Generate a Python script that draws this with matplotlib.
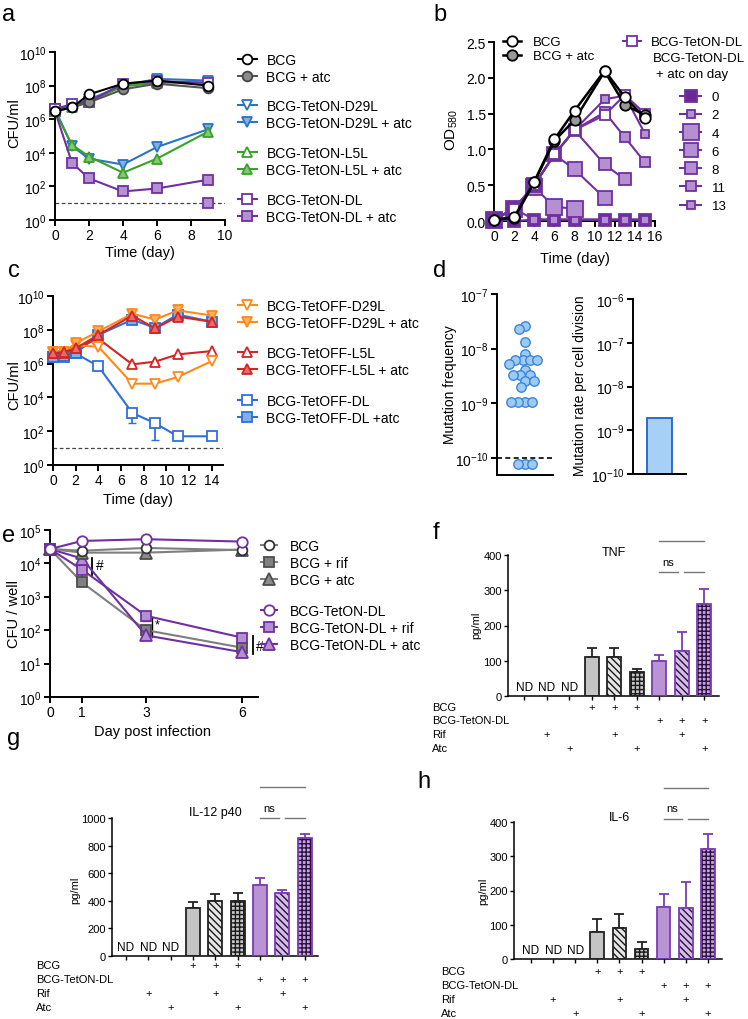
import numpy as np
import matplotlib
matplotlib.use("Agg")
import matplotlib.pyplot as plt
from matplotlib.ticker import FixedLocator, NullLocator, FormatStrFormatter

W, H = 748, 1020

plt.rcParams["font.family"] = ["Liberation Sans", "DejaVu Sans"]
plt.rcParams["mathtext.fontset"] = "custom"
plt.rcParams["mathtext.rm"] = "Liberation Sans"
plt.rcParams["mathtext.it"] = "Liberation Sans:italic"
plt.rcParams["mathtext.bf"] = "Liberation Sans:bold"
plt.rcParams["hatch.linewidth"] = 1.0
plt.rcParams["axes.linewidth"] = 1.4
plt.rcParams["xtick.major.width"] = 1.4
plt.rcParams["ytick.major.width"] = 1.4
plt.rcParams["xtick.major.size"] = 4
plt.rcParams["ytick.major.size"] = 4
plt.rcParams["xtick.labelsize"] = 10
plt.rcParams["ytick.labelsize"] = 10
plt.rcParams["xtick.major.pad"] = 2
plt.rcParams["ytick.major.pad"] = 2

# ---------------- data ----------------
# a: TetON strains, CFU/ml
a_days = [0, 1, 2, 4, 6, 9]
a_bcg = [3e6, 5e6, 3e7, 1.3e8, 2e8, 1e8]
a_bcg_atc = [3e6, 5e6, 1e7, 6e7, 1.3e8, 7e7]
a_d29l = [4e6, 6e6, 1.5e7, 1e8, 2.5e8, 2e8]
a_d29l_atc = [4e6, 2.5e4, 4.5e3, 2e3, 2.2e4, 2.5e5]
a_l5l = [3e6, 5e6, 1.2e7, 9e7, 1.5e8, 1.5e8]
a_l5l_atc = [3e6, 3e4, 6e3, 6.5e2, 4.5e3, 1.8e5]
a_dl = [4e6, 8e6, 1.1e7, 1.3e8, 1.8e8, 1.5e8]
a_dl_atc = [3e6, 2.5e3, 3e2, 50, 75, 250]
a_dl_atc_rep_day = [9]
a_dl_atc_rep = [10]
a_lod = 10

# b: OD580 growth, atc added on a given day
b_days = [0, 2, 4, 6, 8, 11, 13, 15]
b_bcg = [0.02, 0.05, 0.55, 1.14, 1.54, 2.10, 1.73, 1.44]
b_bcg_atc = [0.02, 0.04, 0.54, 1.12, 1.41, 2.09, 1.62, 1.48]
b_dl = [0.02, 0.17, 0.50, 0.93, 1.27, 1.48, 1.76, 1.50]
b_atc_day = ["0", "2", "4", "6", "8", "11", "13"]
b_atc_d0 = [0.03, 0.0, 0.02, 0.02, 0.02, 0.02, 0.02, 0.02]
b_atc_d2 = [0.02, 0.17, 0.02, 0.02, 0.02, 0.02, 0.02, 0.02]
b_atc_d4 = [0.02, 0.17, 0.47, 0.20, 0.17]
b_atc_d6 = [0.02, 0.17, 0.50, 0.93, 0.72, 0.32]
b_atc_d8 = [0.02, 0.17, 0.50, 0.93, 1.27, 0.79, 0.58]
b_atc_d11 = [0.02, 0.17, 0.50, 0.93, 1.27, 1.52, 1.17, 0.82]
b_atc_d13 = [0.02, 0.17, 0.50, 0.93, 1.27, 1.70, 1.75, 1.22]

# c: TetOFF strains, CFU/ml
c_days = [0, 1, 2, 4, 7, 9, 11, 14]
c_d29l = [5e6, 5e6, 1.2e7, 1e7, 6.5e4, 6.5e4, 1.6e5, 1.4e6]
c_d29l_atc = [5e6, 5e6, 1.6e7, 8e7, 9e8, 4e8, 1.4e9, 7e8]
c_l5l = [4e6, 4.5e6, 8e6, 3e7, 9e5, 1.3e6, 3.5e6, 5.5e6]
c_l5l_atc = [4e6, 5e6, 8e6, 5e7, 7e8, 1.2e8, 6e8, 3e8]
c_dl = [2.5e6, 2.5e6, 4e6, 7e5, 1.2e3, 3e2, 50, 50]
c_dl_err_low = [0, 0, 0, 0, 9e2, 2.7e2, 0, 0]
c_dl_atc = [2.5e6, 3e6, 4e6, 5e7, 4e8, 1.3e8, 8e8, 3e8]
c_lod = 10

# d: mutation frequency / rate
d_freq = [2.65e-8, 2.3e-8, 1.32e-8, 8.1e-9, 6.1e-9, 6.1e-9, 6.1e-9, 6.1e-9,
          5.3e-9, 4.1e-9, 3.3e-9, 3.3e-9, 3.3e-9, 2.6e-9, 2.6e-9, 2.0e-9,
          1.07e-9, 1.07e-9, 1.07e-9, 1.07e-9, 7.8e-11, 7.8e-11, 7.8e-11]
d_freq_lod = 1e-10
d_rate = [1.8e-9]

# e: macrophage infection, CFU / well
e_days = [0, 1, 3, 6]
e_bcg = [2.7e4, 2.4e4, 2.9e4, 2.5e4]
e_bcg_rif = [2.7e4, 2.7e3, 1e2, 3e1]
e_bcg_atc = [2.7e4, 2.1e4, 2.1e4, 2.6e4]
e_dl = [2.7e4, 4.7e4, 5.3e4, 4.5e4]
e_dl_rif = [2.7e4, 6.5e3, 2.7e2, 6e1]
e_dl_rif_err = [0, 2.5e3, 8e1, 0]
e_dl_atc = [2.7e4, 1.4e4, 7e1, 2.2e1]

# f-h: cytokines, pg/ml
detected = [0, 0, 0, 1, 1, 1, 1, 1, 1]
tnf = [0, 0, 0, 111, 112, 68, 99, 127, 262]
tnf_err = [0, 0, 0, 25, 25, 8, 17, 54, 41]
il12 = [0, 0, 0, 345, 396, 400, 514, 456, 853]
il12_err = [0, 0, 0, 48, 53, 56, 51, 24, 31]
il6 = [0, 0, 0, 78, 90, 29, 153, 149, 320]
il6_err = [0, 0, 0, 38, 41, 22, 36, 77, 44]
row_labels = ["BCG", "BCG-TetON-DL", "Rif", "Atc"]
row_bcg = [0, 0, 0, 1, 1, 1, 0, 0, 0]
row_dl = [0, 0, 0, 0, 0, 0, 1, 1, 1]
row_rif = [0, 1, 0, 0, 1, 0, 0, 1, 0]
row_atc = [0, 0, 1, 0, 0, 1, 0, 0, 1]

# ---------------- styles ----------------
PURPLE = "#7030a0"
LPURPLE = "#b48fd2"
BLUE = "#2a74c5"
LBLUE = "#80b3e6"
GREEN = "#3aa02c"
LGREEN = "#86c874"
ORANGE = "#ff8a1c"
LORANGE = "#ffb25e"
RED = "#d42424"
LRED = "#e86a6a"
CBLUE = "#2f6fdc"
LCBLUE = "#7fb0ea"

fig = plt.figure(figsize=(W / 100, H / 100), dpi=100)


def add_ax(l, t, r, b):
    ax = fig.add_axes([l / W, 1 - b / H, (r - l) / W, (b - t) / H])
    ax.spines["top"].set_visible(False)
    ax.spines["right"].set_visible(False)
    ax.box_px = (l, t, r, b)
    return ax


def ftext(x, y, s, **kw):
    return fig.text(x / W, 1 - y / H, s, **kw)


def series(ax, x, y, marker, mfc, color, mec=None, ms=7, lw=1.5, z=3):
    (ln,) = ax.plot(x, y, "-", color=color, lw=lw, marker=marker, ms=ms,
                    mfc=mfc, mec=mec or color, mew=1.3, clip_on=False, zorder=z)
    return ln


def legend_group(handles, labels, x, y, fs=10, spacing=0.2, hl=1.35, pad=0.7):
    fig.legend(handles, labels, loc="upper left", bbox_to_anchor=(x / W, 1 - y / H),
               frameon=False, fontsize=fs, borderpad=0, borderaxespad=0,
               handlelength=hl, handletextpad=pad, labelspacing=spacing)


def log_axis(ax, lo, hi, step):
    ax.set_yscale("log")
    ax.set_ylim(10.0 ** lo, 10.0 ** hi)
    ax.yaxis.set_major_locator(FixedLocator([10.0 ** k for k in range(lo, hi + 1, step)]))
    ax.yaxis.set_minor_locator(NullLocator())


def letter(x, y, s):
    ftext(x, y, s, fontsize=17, ha="left", va="baseline")


# ---------------- panel a ----------------
ax = add_ax(55, 53, 225, 221)
log_axis(ax, 0, 10, 2)
ax.set_xlim(0, 10)
ax.set_xticks(range(0, 11, 2))
ax.axhline(a_lod, color="#444", lw=0.9, ls=(0, (3, 2)), zorder=1)
h_d29l_atc = series(ax, a_days, a_d29l_atc, "v", LBLUE, BLUE)
h_l5l_atc = series(ax, a_days, a_l5l_atc, "^", LGREEN, GREEN)
h_dl_atc = series(ax, a_days, a_dl_atc, "s", LPURPLE, PURPLE)
ax.plot(a_dl_atc_rep_day, a_dl_atc_rep, "s", ms=7, mfc=LPURPLE, mec=PURPLE, mew=1.3,
        clip_on=False, zorder=3)
h_d29l = series(ax, a_days, a_d29l, "v", "white", BLUE)
h_l5l = series(ax, a_days, a_l5l, "^", "white", GREEN)
h_dl = series(ax, a_days, a_dl, "s", "white", PURPLE)
h_bcg_atc = series(ax, a_days, a_bcg_atc, "o", "#8c8c8c", "#555555", mec="#444444", z=4)
h_bcg = series(ax, a_days, a_bcg, "o", "white", "black", z=5)
ftext(140, 253, "Time (day)", fontsize=10.5, ha="center", va="center")
ftext(14, 123, "CFU/ml", fontsize=10.5, ha="center", va="center", rotation=90)
legend_group([h_bcg, h_bcg_atc], ["BCG", "BCG + atc"], 238, 54)
legend_group([h_d29l, h_d29l_atc], ["BCG-TetON-D29L", "BCG-TetON-D29L + atc"], 238, 100)
legend_group([h_l5l, h_l5l_atc], ["BCG-TetON-L5L", "BCG-TetON-L5L + atc"], 238, 147)
legend_group([h_dl, h_dl_atc], ["BCG-TetON-DL", "BCG-TetON-DL + atc"], 238, 194)
letter(2, 21, "a")

# ---------------- panel b ----------------
ax = add_ax(494, 43, 655, 222)
ax.set_xlim(0, 16)
ax.set_ylim(0, 2.5)
ax.set_xticks(range(0, 17, 2))
ax.set_yticks(np.arange(0, 2.51, 0.5))
ax.yaxis.set_major_formatter(FormatStrFormatter("%.1f"))
b_curves = [b_atc_d0, b_atc_d2, b_atc_d4, b_atc_d6, b_atc_d8, b_atc_d11, b_atc_d13]
b_sizes = [8, 6, 11.5, 10, 8.5, 7, 5.5]
b_faces = ["#6a2a98"] + [LPURPLE] * 6
b_handles = []
for vals, ms, fc in zip(b_curves, b_sizes, b_faces):
    b_handles.append(series(ax, b_days[:len(vals)], vals, "s", fc, PURPLE, ms=ms, z=3))
h_bdl = series(ax, b_days, b_dl, "s", "white", PURPLE, ms=7, z=4)
h_bbcg_atc = series(ax, b_days, b_bcg_atc, "o", "#999999", "black", ms=7.5, lw=1.8, z=5)
h_bbcg = series(ax, b_days, b_bcg, "o", "white", "black", ms=7.5, lw=1.8, z=6)
ftext(575, 259, "Time (day)", fontsize=10.5, ha="center", va="center")
ftext(452, 130, "OD$_{580}$", fontsize=11, ha="center", va="center", rotation=90)
legend_group([h_bbcg, h_bbcg_atc], ["BCG", "BCG + atc"], 503, 37, fs=9.5, spacing=0.15,
             pad=0.9)
legend_group([h_bdl], ["BCG-TetON-DL"], 623, 37, fs=9.5, pad=0.75)
ftext(653, 59, "BCG-TetON-DL", fontsize=9.5, ha="left", va="center")
ftext(656, 75, "+ atc on day", fontsize=9.5, ha="left", va="center")
legend_group(b_handles, b_atc_day, 680, 92, fs=9.5, spacing=0.45, hl=1.6, pad=0.8)
letter(433, 21, "b")

# ---------------- panel c ----------------
ax = add_ax(53, 297, 223, 466)
log_axis(ax, 0, 10, 2)
ax.set_xlim(0, 15)
ax.set_xticks(range(0, 15, 2))
ax.axhline(c_lod, color="#444", lw=0.9, ls=(0, (3, 2)), zorder=1)
ax.errorbar(c_days, c_dl, yerr=[c_dl_err_low, [0] * len(c_dl)], fmt="none",
            ecolor=CBLUE, elinewidth=1.3, capsize=3, zorder=2)
h_cdl = series(ax, c_days, c_dl, "s", "white", CBLUE)
h_cdl_atc = series(ax, c_days, c_dl_atc, "s", LCBLUE, CBLUE)
h_cl5l = series(ax, c_days, c_l5l, "^", "white", RED)
h_cd29l = series(ax, c_days, c_d29l, "v", "white", ORANGE)
h_cd29l_atc = series(ax, c_days, c_d29l_atc, "v", LORANGE, ORANGE)
h_cl5l_atc = series(ax, c_days, c_l5l_atc, "^", LRED, RED)
ftext(138, 500, "Time (day)", fontsize=10.5, ha="center", va="center")
ftext(14, 385, "CFU/ml", fontsize=10.5, ha="center", va="center", rotation=90)
legend_group([h_cd29l, h_cd29l_atc], ["BCG-TetOFF-D29L", "BCG-TetOFF-D29L + atc"], 238, 300)
legend_group([h_cl5l, h_cl5l_atc], ["BCG-TetOFF-L5L", "BCG-TetOFF-L5L + atc"], 238, 347)
legend_group([h_cdl, h_cdl_atc], ["BCG-TetOFF-DL", "BCG-TetOFF-DL +atc"], 238, 395)
letter(8, 277, "c")


# ---------------- panel d ----------------
def swarm_offsets(vals, px_per_decade, diam):
    ys = np.log10(vals) * px_per_decade
    placed = []
    xs = np.zeros(len(vals))
    for i in np.argsort(-ys):
        y = ys[i]
        cands = [0.0]
        blocks = []
        for xj, yj in placed:
            dy = abs(y - yj)
            if dy < diam:
                dx = np.sqrt(diam ** 2 - dy ** 2)
                blocks.append((xj - dx, xj + dx))
                cands += [xj - dx, xj + dx]
        ok = [c for c in cands if all(not (lo + 1e-6 < c < hi - 1e-6) for lo, hi in blocks)]
        xs[i] = min(ok, key=abs)
        placed.append((xs[i], y))
    return xs


ax = add_ax(497, 295, 553, 476)
ax.set_yscale("log")
ax.set_ylim(10 ** -10.31, 1e-7)
ax.yaxis.set_major_locator(FixedLocator([1e-7, 1e-8, 1e-9, 1e-10]))
ax.yaxis.set_minor_locator(NullLocator())
ax.set_xlim(-1, 1)
ax.set_xticks([])
ax.axhline(d_freq_lod, color="black", lw=1.2, ls=(0, (3, 2)), zorder=1)
dx = swarm_offsets(d_freq, 55, 7.2) / 28.0
ax.plot(dx, d_freq, "o", ms=6.8, mfc="#9ccaf3", mec="#3d85d8", mew=1.0, ls="none",
        zorder=3, clip_on=False)
ftext(450, 385, "Mutation frequency", fontsize=10, ha="center", va="center", rotation=90)

ax = add_ax(633, 300, 686, 475)
log_axis(ax, -10, -6, 1)
ax.set_xlim(-1, 1)
ax.set_xticks([])
ax.bar([0], d_rate, bottom=1e-10, width=0.98, color="#a6d0f5", edgecolor="#2a6cd0", lw=1.4)
ftext(580, 386, "Mutation rate per cell division", fontsize=10, ha="center", va="center",
      rotation=90)
letter(433, 277, "d")

# ---------------- panel e ----------------
ax = add_ax(50, 531, 258, 698)
log_axis(ax, 0, 5, 1)
ax.set_xlim(0, 6.5)
ax.set_xticks(e_days)
GREY = "#7f7f7f"
ax.errorbar(e_days, e_dl_rif, yerr=e_dl_rif_err, fmt="none", ecolor=PURPLE,
            elinewidth=1.2, capsize=3, zorder=2)
h_ebcg_rif = series(ax, e_days, e_bcg_rif, "s", "#808080", GREY, mec="#4d4d4d", ms=7)
h_edl_rif = series(ax, e_days, e_dl_rif, "s", LPURPLE, PURPLE, ms=7)
h_edl_atc = series(ax, e_days, e_dl_atc, "^", LPURPLE, PURPLE, ms=8)
h_ebcg_atc = series(ax, e_days, e_bcg_atc, "^", "#8c8c8c", GREY, mec="#4d4d4d", ms=8)
h_ebcg = series(ax, e_days, e_bcg, "o", "white", GREY, mec="#333333", ms=7)
h_edl = series(ax, e_days, e_dl, "o", "white", PURPLE, ms=7.5)
# significance marks
ax.plot([1.32, 1.32], [e_dl_rif[1] * 0.7, e_dl_atc[1] * 1.05], color="black", lw=1.3)
ax.text(1.42, e_dl_rif[1] * 1.4, "#", fontsize=10, ha="left", va="center")
ax.plot([3.18, 3.18], [e_dl_atc[2] * 0.9, e_dl_rif[2] * 0.9], color="black", lw=1.0)
ax.text(3.26, e_dl_rif[2] * 0.55, "*", fontsize=9, ha="left", va="center")
ax.plot([6.35, 6.35], [e_dl_atc[3] * 0.9, e_dl_rif[3] * 1.1], color="black", lw=1.3,
        clip_on=False)
ax.text(6.45, e_dl_atc[3] * 1.5, "#", fontsize=10, ha="left", va="center", clip_on=False)
ftext(153, 732, "Day post infection", fontsize=10.5, ha="center", va="center")
ftext(14, 614, "CFU / well", fontsize=10.5, ha="center", va="center", rotation=90)
legend_group([h_ebcg, h_ebcg_rif, h_ebcg_atc], ["BCG", "BCG + rif", "BCG + atc"], 261, 540,
             hl=1.15, pad=0.95)
legend_group([h_edl, h_edl_rif, h_edl_atc],
             ["BCG-TetON-DL", "BCG-TetON-DL + rif", "BCG-TetON-DL + atc"], 261, 605,
             hl=1.15, pad=0.95)
letter(2, 542, "e")

# ---------------- panels f, g, h ----------------
GFACE = "#c4c4c4"
PFACE = "#b894d4"
bar_face = ["w", "w", "w", GFACE, "#e6e6e6", "#c8c8c8", PFACE, "#d4bde6", "#c7a5e0"]
bar_hatch = ["", "", "", "", "\\" * 5, "+" * 4, "", "\\" * 5, "+" * 4]
bar_hatch_col = ["k", "k", "k", GFACE, "#1a1a1a", "#1a1a1a", PFACE, "#2b1040", "#2b1040"]
bar_edge = ["k", "k", "k", "#222222", "#222222", "#222222", "#7a3eb1", "#7a3eb1", "#7a3eb1"]
row_marks = [row_bcg, row_dl, row_rif, row_atc]


def bar_panel(ax, vals, errs, ymax, step, title, title_y, sig_y, rows_y, rows_x):
    x = np.arange(len(vals))
    ax.set_xlim(-0.72, 8.65)
    ax.set_ylim(0, ymax)
    ax.set_yticks(np.arange(0, ymax + 1, step))
    ax.set_xticks(x)
    ax.set_xticklabels([])
    ax.tick_params(axis="both", length=3, width=1.0, labelsize=8, pad=1.5)
    for s in ["left", "bottom"]:
        ax.spines[s].set_linewidth(1.1)
    for i in x:
        if not detected[i]:
            ax.annotate("ND", (i, 0), xytext=(0, 2), textcoords="offset points",
                        ha="center", va="bottom", fontsize=8.5)
            continue
        ax.errorbar(i, vals[i], yerr=[[0], [errs[i]]], fmt="none", ecolor=bar_edge[i],
                    elinewidth=1.3, capsize=3.5, capthick=1.3, zorder=1)
        ax.bar(i, vals[i], width=0.62, color=bar_face[i], edgecolor=bar_hatch_col[i],
               hatch=bar_hatch[i], linewidth=0, zorder=2)
        ax.bar(i, vals[i], width=0.62, fill=False, edgecolor=bar_edge[i], linewidth=1.3,
               zorder=3)
    ax.text(4, title_y, title, fontsize=9, ha="center", va="center")
    top, ns_y, short = sig_y
    kw = dict(color="#777777", lw=1.0, clip_on=False)
    ax.plot([6, 8], [top, top], **kw)
    ax.plot([6, 6.85], [short, short], **kw)
    ax.plot([7.1, 8], [short, short], **kw)
    ax.text(6.4, ns_y, "ns", fontsize=8, ha="center", va="center")
    l, t, r, b = ax.box_px
    for lab, marks, ry in zip(row_labels, row_marks, rows_y):
        ftext(rows_x, ry, lab, fontsize=8, ha="left", va="center")
        for i in x:
            if marks[i]:
                ax.text(i, (b - ry) / (b - t), "+", transform=ax.get_xaxis_transform(),
                        fontsize=8, ha="center", va="center", clip_on=False)


ax = add_ax(508, 556, 719, 697)
bar_panel(ax, tnf, tnf_err, 400, 100, "TNF", 408, (439, 380, 351),
          [708, 721, 735, 749], 432)
ftext(476, 625, "pg/ml", fontsize=8, ha="center", va="center", rotation=90)
letter(433, 539, "f")

ax = add_ax(112, 819, 318, 957)
bar_panel(ax, il12, il12_err, 1000, 200, "IL-12 p40", 1043, (1225, 1072, 1000),
          [966, 980, 994, 1008], 36)
ax.set_xlim(-0.63, 8.6)
ftext(75, 890, "pg/ml", fontsize=8, ha="center", va="center", rotation=90)
letter(7, 745, "g")

ax = add_ax(514, 823, 722, 960)
bar_panel(ax, il6, il6_err, 400, 100, "IL-6", 416, (500, 442, 410),
          [972, 986, 1000, 1014], 441)
ax.set_xlim(-0.77, 8.64)
ftext(483, 891, "pg/ml", fontsize=8, ha="center", va="center", rotation=90)
letter(417, 788, "h")

fig.savefig("out.png", dpi=100)
